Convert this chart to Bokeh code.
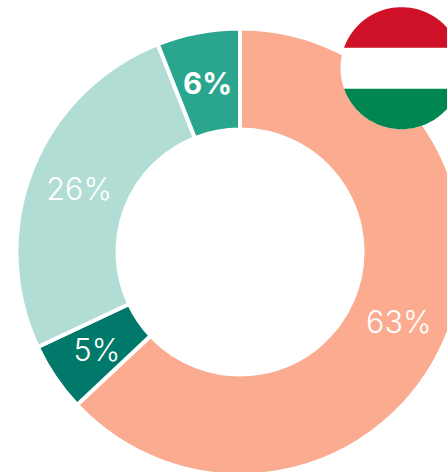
import numpy as np
from bokeh.plotting import figure
from bokeh.models import ColumnDataSource, Range1d
from bokeh.embed import file_html
from bokeh.resources import INLINE

labels = ["63%", "5%", "26%", "6%"]
values = [63, 5, 26, 6]
colors = ["#FBAB90", "#00796B", "#B2DDD5", "#2AA58E"]
fonts = ["Inter Light", "Inter Light", "Inter Light", "Inter"]
styles = ["normal", "normal", "normal", "bold"]
sizes = ["30.5px", "30.5px", "30.5px", "29.5px"]
flag_colors = ["#CE1126", "#FFFFFF", "#008751"]

W, H = 447, 472
CX, CY, RO, RI = 239.5, 220.6, 223.5, 122.5
FX, FY, FR = 401.0, 404.3, 61.0

p = figure(width=W, height=H, output_backend="svg", toolbar_location=None,
           x_range=Range1d(0, W), y_range=Range1d(0, H), min_border=0,
           outline_line_color=None)
p.axis.visible = False
p.grid.visible = False

v = np.array(values, dtype=float)
edges = np.concatenate([[0], np.cumsum(v)]) / v.sum() * 2 * np.pi
start = np.pi / 2 - edges[1:]
end = np.pi / 2 - edges[:-1]
mid = (edges[:-1] + edges[1:]) / 2
rm = (RO + RI) / 2
src = ColumnDataSource(dict(start=start, end=end, color=colors, label=labels, style=styles, font=fonts,
                            size=sizes, x=CX + rm * np.sin(mid), y=CY + rm * np.cos(mid) - 0.6))
p.annular_wedge(x=CX, y=CY, inner_radius=RI, outer_radius=RO, start_angle="start", end_angle="end",
                fill_color="color", line_color="white", line_width=4, source=src)
p.text(x="x", y="y", text="label", source=src, text_color="white", text_font="font",
       text_font_size="size", text_font_style="style", text_align="center", text_baseline="middle")

# flag: white disc with chord segments
p.circle(x=FX, y=FY, radius=FR, fill_color=flag_colors[1], line_color=None)
h = 20.5
t = np.arccos(h / FR)
a = np.linspace(-t, t, 80)
p.patch(FX + FR * np.sin(a), FY + FR * np.cos(a), fill_color=flag_colors[0], line_color=None)
p.patch(FX + FR * np.sin(a), FY - FR * np.cos(a), fill_color=flag_colors[2], line_color=None)

open("out.html", "w").write(file_html(p, INLINE))
